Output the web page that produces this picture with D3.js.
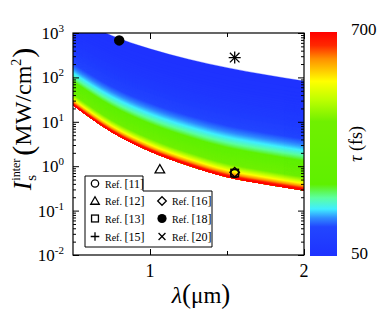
<!DOCTYPE html>
<html><head><meta charset="utf-8">
<script src="https://cdn.jsdelivr.net/npm/d3@7"></script>
<style>
html,body{margin:0;padding:0;background:#fff;}
svg{display:block;}
text{font-family:"Liberation Serif","DejaVu Serif",serif;fill:#000;}
</style></head><body>
<svg id="chart" width="390" height="318"></svg>
<script>
// ---------------- data ----------------
const lambdaGrid = [0.5, 0.75, 1.0, 1.25, 1.5, 1.75, 2.0];          // µm
const intensityTau50 = [2300, 880, 440, 257, 166, 115, 83];          // MW/cm^2, upper edge (tau = 50 fs)
const intensityTau700 = [24, 6.0, 2.2, 1.05, 0.58, 0.40, 0.29];      // MW/cm^2, lower edge (tau = 700 fs)
const tauRange = [50, 700];
const colorStopPos = [0, 0.13, 0.17, 0.21, 0.26, 0.32, 0.60, 0.70, 0.78, 0.88, 0.94, 1];
const colorStopCol = ["#1e32ff", "#2246ff", "#2f8cff", "#40eeff", "#5cffa0", "#5ff000", "#70f000", "#c0ff00", "#ffff00", "#ff9000", "#ff2800", "#ff0000"];
const refLabels = ["Ref. [11]", "Ref. [12]", "Ref. [13]", "Ref. [15]", "Ref. [16]", "Ref. [18]", "Ref. [20]"];
const refSymbols = ["circle", "triangle", "square", "plus", "diamond", "dot", "cross"];
const refLambda = [1.55, 1.064, 1.55, 1.55, 1.55, 0.8, 1.55];
const refIntensity = [0.68, 0.85, 0.70, 280, 0.73, 680, 280];
const xTickLabels = [1, 2];
const xMinorTicks = [1.5];
const yTickExponents = [-2, -1, 0, 1, 2, 3];
const colorbarLabels = [700, 50];

// ---------------- layout ----------------
const svg = d3.select("#chart");
const L = 73, R = 304, T = 33, B = 255;
const x = d3.scaleLinear().domain([0.5, 2]).range([L, R]);
const y = d3.scaleLog().domain([0.01, 1000]).range([B, T]);

const tauToT = d3.scaleLinear().domain(tauRange).range([0, 1]);
const cmap = d3.scaleLinear().domain(colorStopPos).range(colorStopCol).interpolate(d3.interpolateRgb);
const color = tau => cmap(tauToT(tau));

const defs = svg.append("defs");
defs.append("clipPath").attr("id", "plotclip").append("rect")
  .attr("x", L).attr("y", T).attr("width", R - L).attr("height", B - T);

// ---------------- band ----------------
const logTop = intensityTau50.map(Math.log10);
const logBot = intensityTau700.map(Math.log10);
const gFrac = tau => Math.pow(Math.log(tau / tauRange[0]) / Math.log(tauRange[1] / tauRange[0]), 0.65);
const levelLog = (i, tau) => logTop[i] + (logBot[i] - logTop[i]) * gFrac(tau);
const area = d3.area()
  .x(d => x(d.l))
  .y0(d => y(Math.pow(10, d.b)))
  .y1(d => y(Math.pow(10, d.t)))
  .curve(d3.curveMonotoneX);
const band = svg.append("g").attr("clip-path", "url(#plotclip)");
const taus = d3.range(tauRange[0], tauRange[1], 2.5);
taus.forEach(tau => {
  const pts = lambdaGrid.map((l, i) => ({ l, t: levelLog(i, tau), b: logBot[i] }));
  band.append("path").attr("d", area(pts)).attr("fill", color(tau))
    .attr("stroke", color(tau)).attr("stroke-width", 0.3);
});

// ---------------- axes ----------------
const minorVals = [];
yTickExponents.forEach(e => { if (e < 3) for (let k = 2; k <= 9; k++) minorVals.push(k * Math.pow(10, e)); });
const majorVals = yTickExponents.map(e => Math.pow(10, e));
const axG = svg.append("g");
function yAxis(gen, tx, vals, len) {
  const g = axG.append("g").attr("transform", `translate(${tx},0)`)
    .call(gen(y).tickValues(vals).tickSize(-len).tickFormat(""));
  g.select(".domain").remove();
  g.selectAll("line").attr("stroke", "#000").attr("stroke-width", 1);
}
yAxis(d3.axisLeft, L, majorVals, 6);
yAxis(d3.axisLeft, L, minorVals, 3);
yAxis(d3.axisRight, R, majorVals, 6);
yAxis(d3.axisRight, R, minorVals, 3);
function xAxis(gen, ty, vals, len) {
  const g = axG.append("g").attr("transform", `translate(0,${ty})`)
    .call(gen(x).tickValues(vals).tickSize(-len).tickFormat(""));
  g.select(".domain").remove();
  g.selectAll("line").attr("stroke", "#000").attr("stroke-width", 1);
}
xAxis(d3.axisBottom, B, xTickLabels, 6);
xAxis(d3.axisBottom, B, xMinorTicks, 4);
xAxis(d3.axisTop, T, xTickLabels, 6);
xAxis(d3.axisTop, T, xMinorTicks, 4);
svg.append("rect").attr("x", L).attr("y", T).attr("width", R - L).attr("height", B - T)
  .attr("fill", "none").attr("stroke", "#000").attr("stroke-width", 1.2);

// y tick labels
yTickExponents.forEach(e => {
  const t = svg.append("text").attr("x", 64).attr("y", y(Math.pow(10, e)) + 6)
    .attr("text-anchor", "end").style("font-size", "17px");
  t.append("tspan").text("10");
  t.append("tspan").attr("dy", -7).style("font-size", "11px").text(e);
});
// x tick labels
xTickLabels.forEach(v => {
  svg.append("text").attr("x", x(v)).attr("y", 277).attr("text-anchor", "middle")
    .style("font-size", "18px").text(v);
});

// ---------------- axis titles ----------------
const xt = svg.append("text").attr("x", 201).attr("y", 303).attr("text-anchor", "middle");
xt.append("tspan").style("font-size", "24px").style("font-style", "italic").text("λ");
xt.append("tspan").style("font-size", "27px").text("(");
xt.append("tspan").style("font-size", "23px").text("μm");
xt.append("tspan").style("font-size", "27px").text(")");

const yt = svg.append("g");
let cx = 0;
const tI = yt.append("text").attr("x", cx).attr("y", 0).style("font-size", "26px").style("font-style", "italic").text("I");
cx += tI.node().getComputedTextLength() + 1;
const tSup = yt.append("text").attr("x", cx).attr("y", -11).style("font-size", "12px").text("inter");
const tSub = yt.append("text").attr("x", cx).attr("y", 5).style("font-size", "15px").text("s");
cx += Math.max(tSup.node().getComputedTextLength(), tSub.node().getComputedTextLength()) + 3;
const tP1 = yt.append("text").attr("x", cx).attr("y", 2).style("font-size", "30px").text("(");
cx += tP1.node().getComputedTextLength();
const tMW = yt.append("text").attr("x", cx).attr("y", 0).style("font-size", "24px").text("MW/cm");
cx += tMW.node().getComputedTextLength();
const t2 = yt.append("text").attr("x", cx).attr("y", -10).style("font-size", "14px").text("2");
cx += t2.node().getComputedTextLength() + 1;
const tP2 = yt.append("text").attr("x", cx).attr("y", 2).style("font-size", "30px").text(")");
cx += tP2.node().getComputedTextLength();
yt.attr("transform", `translate(31,${119 + cx / 2}) rotate(-90)`);

// ---------------- colorbar ----------------
const grad = defs.append("linearGradient").attr("id", "cbgrad")
  .attr("x1", 0).attr("y1", 1).attr("x2", 0).attr("y2", 0);
colorStopPos.forEach((p, i) => grad.append("stop").attr("offset", p).attr("stop-color", colorStopCol[i]));
const cbY = d3.scaleLinear().domain(tauRange).range([256, 32]);
svg.append("rect").attr("x", 310).attr("y", cbY(700)).attr("width", 27).attr("height", cbY(50) - cbY(700))
  .attr("fill", "url(#cbgrad)");
colorbarLabels.forEach(v => {
  svg.append("text").attr("x", 351).attr("y", cbY(v) + 3).style("font-size", "17px").text(v);
});
const ct = svg.append("text").attr("transform", "translate(362,144) rotate(-90)").attr("text-anchor", "middle");
ct.append("tspan").style("font-size", "18px").style("font-style", "italic").text("τ");
ct.append("tspan").style("font-size", "18px").text(" (fs)");

// ---------------- reference points ----------------
function drawSymbol(g, sym, cxp, cyp, s) {
  const st = { stroke: "#000", "stroke-width": 1.3, fill: "none" };
  let el;
  if (sym === "circle") el = g.append("circle").attr("cx", cxp).attr("cy", cyp).attr("r", s * 0.85);
  else if (sym === "dot") el = g.append("circle").attr("cx", cxp).attr("cy", cyp).attr("r", s).attr("fill", "#000");
  else if (sym === "square") el = g.append("rect").attr("x", cxp - s * 0.8).attr("y", cyp - s * 0.8).attr("width", s * 1.6).attr("height", s * 1.6);
  else if (sym === "triangle") el = g.append("path").attr("d", `M${cxp},${cyp - s}L${cxp + s},${cyp + s * 0.75}L${cxp - s},${cyp + s * 0.75}Z`);
  else if (sym === "diamond") el = g.append("path").attr("d", `M${cxp},${cyp - s}L${cxp + s},${cyp}L${cxp},${cyp + s}L${cxp - s},${cyp}Z`);
  else if (sym === "plus") el = g.append("path").attr("d", `M${cxp - s},${cyp}H${cxp + s}M${cxp},${cyp - s}V${cyp + s}`);
  else if (sym === "cross") el = g.append("path").attr("d", `M${cxp - s * 0.8},${cyp - s * 0.8}L${cxp + s * 0.8},${cyp + s * 0.8}M${cxp - s * 0.8},${cyp + s * 0.8}L${cxp + s * 0.8},${cyp - s * 0.8}`);
  Object.entries(st).forEach(([k, v]) => { if (!(sym === "dot" && k === "fill")) el.attr(k, v); });
  if (sym === "dot") el.attr("stroke", "none");
  return el;
}
const pts = svg.append("g");
refSymbols.forEach((sym, i) => {
  const s = sym === "dot" ? 5.2 : (sym === "plus" || sym === "cross") ? 6 : 4.8;
  drawSymbol(pts, sym, x(refLambda[i]), y(refIntensity[i]), s);
});

// ---------------- legend ----------------
const lg = svg.append("g");
lg.append("path").attr("d", "M85,176H143V191H212V247H85Z").attr("fill", "#fff").attr("stroke", "#000").attr("stroke-width", 1);
const rowY = [183.5, 201, 218.5, 236.5];
const legendPos = [[0, 0], [0, 1], [0, 2], [0, 3], [1, 1], [1, 2], [1, 3]];
const colX = [95, 162];
refLabels.forEach((lab, i) => {
  const [c, r] = legendPos[i];
  drawSymbol(lg, refSymbols[i], colX[c], rowY[r], refSymbols[i] === "dot" ? 4.6 : 4.3);
  const t = lg.append("text").attr("x", colX[c] + 10).attr("y", rowY[r] + 4);
  const parts = lab.split(" ");
  t.append("tspan").style("font-size", "10px").text(parts[0] + " ");
  t.append("tspan").style("font-size", "12px").text(parts[1]);
});
</script></body></html>
